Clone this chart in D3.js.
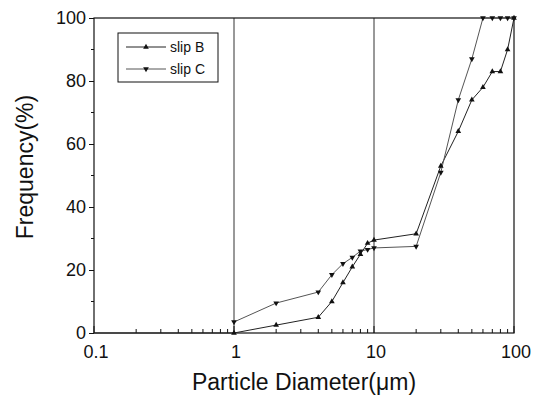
<!DOCTYPE html>
<html>
<head>
<meta charset="utf-8">
<script src="https://cdn.jsdelivr.net/npm/d3@7"></script>
<style>
  body { margin: 0; background: #fff; }
  text { font-family: "Liberation Sans", Arial, sans-serif; fill: #111; }
</style>
</head>
<body>
<svg width="539" height="397"></svg>
<script>
// particle sizes (um) and cumulative frequency (%)
var sizesB = [0.1, 1, 2, 4, 5, 6, 7, 8, 9, 10, 20, 30, 40, 50, 60, 70, 80, 90, 100];
var slipB  = [0, 0, 2.5, 5, 10, 16, 21, 25, 28.5, 29.5, 31.5, 53, 64, 74, 78, 83, 83, 90, 100];
var sizesC = [1, 2, 4, 5, 6, 7, 8, 9, 10, 20, 30, 40, 50, 60, 70, 80, 90, 100];
var slipC  = [3.5, 9.5, 13, 18.5, 22, 24, 26, 26.5, 27, 27.5, 51, 74, 87, 100, 100, 100, 100, 100];
var xTicks = [0.1, 1, 10, 100];
var xTickLabels = ["0.1", "1", "10", "100"];
var yTicks = [0, 20, 40, 60, 80, 100];

var svg = d3.select("svg");
var margin = { top: 18, right: 25, bottom: 64, left: 94 },
  width = +svg.attr("width") - margin.left - margin.right,
  height = +svg.attr("height") - margin.top - margin.bottom;

var g = svg.append("g")
  .attr("transform", "translate(" + margin.left + "," + margin.top + ")");

var x = d3.scaleLog().domain([0.1, 100]).range([0, width]);
var y = d3.scaleLinear().domain([0, 100]).range([height, 0]);

// vertical reference lines at 1 and 10
g.selectAll("line.ref")
  .data([1, 10])
  .enter().append("line")
  .attr("class", "ref")
  .attr("x1", d => x(d)).attr("x2", d => x(d))
  .attr("y1", 0).attr("y2", height)
  .attr("stroke", "#333").attr("stroke-width", 1);

// frame
g.append("rect")
  .attr("width", width).attr("height", height)
  .attr("fill", "none").attr("stroke", "#111").attr("stroke-width", 1.2);

// x axis: minor ticks pointing inward
var minorX = [];
[0.1, 1, 10].forEach(function (dec) {
  for (var k = 2; k <= 9; k++) minorX.push(dec * k);
});
var xAxis = g.append("g")
  .attr("transform", "translate(0," + height + ")");
xAxis.selectAll("line.minor")
  .data(minorX)
  .enter().append("line")
  .attr("x1", d => x(d)).attr("x2", d => x(d))
  .attr("y1", 0).attr("y2", -4)
  .attr("stroke", "#111");
xAxis.selectAll("line.major")
  .data(xTicks)
  .enter().append("line")
  .attr("x1", d => x(d)).attr("x2", d => x(d))
  .attr("y1", 0).attr("y2", -7)
  .attr("stroke", "#111");
xAxis.selectAll("text")
  .data(xTicks)
  .enter().append("text")
  .attr("x", d => x(d) + 2)
  .attr("y", 25)
  .attr("text-anchor", "middle")
  .attr("font-size", 18)
  .text((d, i) => xTickLabels[i]);

// y axis: ticks outward
var yAxis = g.append("g")
  .call(d3.axisLeft(y).tickValues(yTicks).tickSize(5).tickPadding(3));
yAxis.select(".domain").remove();
yAxis.selectAll("text")
  .attr("font-size", 18)
  .attr("fill", "#111")
  .style("font-family", "'Liberation Sans', Arial, sans-serif");
yAxis.selectAll("line").attr("stroke", "#111");
g.selectAll("line.yminor")
  .data([10, 30, 50, 70, 90])
  .enter().append("line")
  .attr("class", "yminor")
  .attr("x1", 0).attr("x2", -3)
  .attr("y1", d => y(d)).attr("y2", d => y(d))
  .attr("stroke", "#111");

// axis titles
svg.append("text")
  .attr("x", 304)
  .attr("y", 390)
  .attr("text-anchor", "middle")
  .attr("font-size", 23)
  .text("Particle Diameter(\u03bcm)");

svg.append("text")
  .attr("transform", "translate(33,167) rotate(-90)")
  .attr("text-anchor", "middle")
  .attr("font-size", 23)
  .text("Frequency(%)");

// series
var dataB = sizesB.map((s, i) => ({ s: s, v: slipB[i] }));
var dataC = sizesC.map((s, i) => ({ s: s, v: slipC[i] }));

var line = d3.line().x(d => x(d.s)).y(d => y(d.v));

g.append("path").datum(dataB)
  .attr("d", line).attr("fill", "none")
  .attr("stroke", "#222").attr("stroke-width", 1);
g.append("path").datum(dataC)
  .attr("d", line).attr("fill", "none")
  .attr("stroke", "#555").attr("stroke-width", 1);

var up = d3.symbol().type(d3.symbolTriangle).size(14);
g.selectAll("path.mB")
  .data(dataB.slice(1))
  .enter().append("path")
  .attr("class", "mB")
  .attr("d", up)
  .attr("transform", d => "translate(" + x(d.s) + "," + y(d.v) + ")")
  .attr("fill", "#111");
g.selectAll("path.mC")
  .data(dataC)
  .enter().append("path")
  .attr("class", "mC")
  .attr("d", up)
  .attr("transform", d => "translate(" + x(d.s) + "," + y(d.v) + ") rotate(180)")
  .attr("fill", "#111");

// legend
var leg = svg.append("g").attr("transform", "translate(118,33)");
leg.append("rect")
  .attr("width", 100).attr("height", 49)
  .attr("fill", "#fff").attr("stroke", "#111").attr("stroke-width", 1);
var items = [{ name: "slip B", rot: 0, color: "#222" }, { name: "slip C", rot: 180, color: "#555" }];
items.forEach(function (it, i) {
  var yy = 14 + i * 22;
  leg.append("line")
    .attr("x1", 8).attr("x2", 48).attr("y1", yy).attr("y2", yy)
    .attr("stroke", it.color);
  leg.append("path")
    .attr("d", up)
    .attr("transform", "translate(28," + yy + ") rotate(" + it.rot + ")")
    .attr("fill", "#111");
  leg.append("text")
    .attr("x", 52).attr("y", yy + 5)
    .attr("font-size", 14)
    .text(it.name);
});
</script>
</body>
</html>
